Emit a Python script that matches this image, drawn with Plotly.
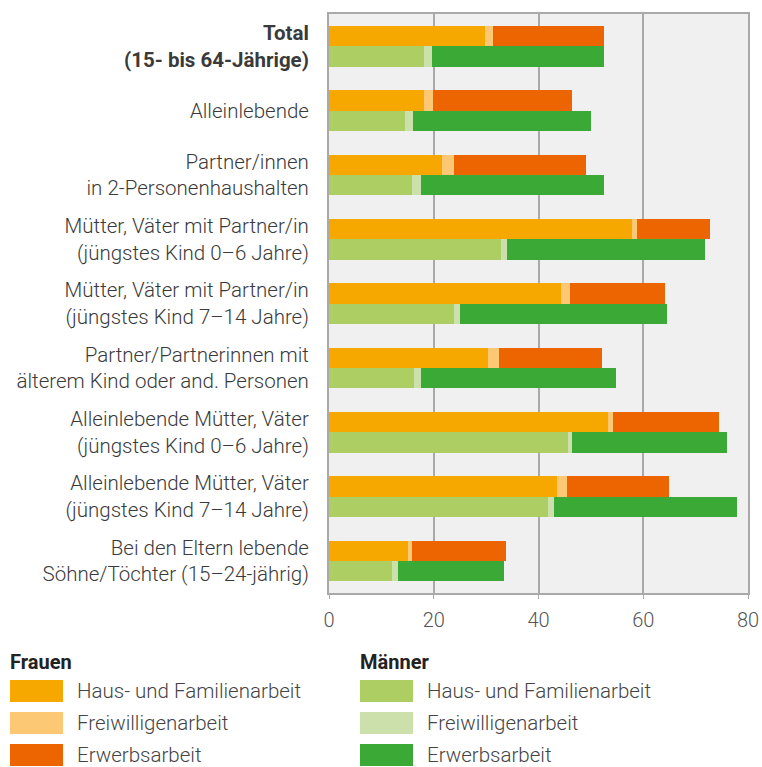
import plotly.graph_objects as go

categories = [
    "<b>Total<br>(15- bis 64-Jährige)</b>",
    "Alleinlebende",
    "Partner/innen<br>in 2-Personenhaushalten",
    "Mütter, Väter mit Partner/in<br>(jüngstes Kind 0–6 Jahre)",
    "Mütter, Väter mit Partner/in<br>(jüngstes Kind 7–14 Jahre)",
    "Partner/Partnerinnen mit<br>älterem Kind oder and. Personen",
    "Alleinlebende Mütter, Väter<br>(jüngstes Kind 0–6 Jahre)",
    "Alleinlebende Mütter, Väter<br>(jüngstes Kind 7–14 Jahre)",
    "Bei den Eltern lebende<br>Söhne/Töchter (15–24-jährig)",
]

frauen_haus = [29.7, 18.1, 21.6, 57.9, 44.2, 30.3, 53.2, 43.5, 15.1]
frauen_frei = [1.6, 1.7, 2.3, 1.0, 1.9, 2.1, 1.0, 1.9, 0.8]
frauen_erwerb = [21.3, 26.6, 25.2, 13.9, 18.1, 19.8, 20.2, 19.5, 17.8]

maenner_haus = [18.1, 14.6, 15.8, 32.9, 23.8, 16.2, 45.6, 41.8, 12.0]
maenner_frei = [1.6, 1.5, 1.7, 1.0, 1.3, 1.4, 0.8, 1.1, 1.1]
maenner_erwerb = [32.9, 34.0, 35.1, 37.9, 39.5, 37.2, 29.6, 35.0, 20.4]

series_names = ["Haus- und Familienarbeit", "Freiwilligenarbeit", "Erwerbsarbeit"]
group_titles = ["Frauen", "Männer"]
x_ticks = [0, 20, 40, 60, 80]

frauen_colors = ["#F6A800", "#FDC873", "#EC6500"]
maenner_colors = ["#ADCE62", "#CBE0AA", "#3AA935"]

BAR_H = 0.316
idx = list(range(len(categories)))
y_f = [i - BAR_H / 2 for i in idx]
y_m = [i + BAR_H / 2 for i in idx]

fig = go.Figure()
for vals, col, name in zip([frauen_haus, frauen_frei, frauen_erwerb], frauen_colors, series_names):
    fig.add_trace(go.Bar(x=vals, y=y_f, orientation="h", width=BAR_H,
                         marker=dict(color=col, line=dict(width=0)),
                         name=name, showlegend=False))
for vals, col, name in zip([maenner_haus, maenner_frei, maenner_erwerb], maenner_colors, series_names):
    fig.add_trace(go.Bar(x=vals, y=y_m, orientation="h", width=BAR_H,
                         marker=dict(color=col, line=dict(width=0)),
                         name=name, showlegend=False))

FONT = "Roboto"

ML, MR, MT, MB = 329, 14, 14, 174
FW, FH = 762, 767

fig.update_layout(
    width=FW, height=FH,
    barmode="stack",
    bargap=0,
    paper_bgcolor="white",
    plot_bgcolor="#F0F0F0",
    margin=dict(l=ML, r=MR, t=MT, b=MB, autoexpand=False),
    font=dict(family=FONT, color="#333333"),
    xaxis=dict(range=[0, 80], tickvals=x_ticks, showgrid=True, gridcolor="#A9A9A9",
               gridwidth=1.5, zeroline=False, showline=True, linecolor="#A9A9A9",
               linewidth=2, mirror=True, ticks="outside", ticklen=4, tickcolor="#A9A9A9",
               tickfont=dict(family=FONT, size=20, color="#555555", weight=300),
               ticklabelstandoff=4),
    yaxis=dict(range=[8.5, -0.5], tickvals=idx, ticktext=categories, showgrid=False,
               zeroline=False, showline=True, linecolor="#A9A9A9", linewidth=2,
               mirror=True, ticks="",
               tickfont=dict(family=FONT, size=20.5, color="#3a3a3a", weight=300),
               ticklabelstandoff=14),
)

# Custom legend (two columns with titles), positioned in plot-domain paper coordinates
PX0, PX1, PY0, PY1 = 329, 748, 14, 593


def px(x):
    return (x - PX0) / (PX1 - PX0)


def py(y):
    return (PY1 - y) / (PY1 - PY0)


col_x = [10, 360]
sw_y = [680, 712, 744]

for c, (title, colors) in enumerate(zip(group_titles, [frauen_colors, maenner_colors])):
    x0 = col_x[c]
    fig.add_annotation(x=px(x0 - 2), y=py(662), xref="paper", yref="paper",
                       text="<b>" + title + "</b>", showarrow=False,
                       xanchor="left", yanchor="middle",
                       font=dict(family=FONT, size=20, color="#222222"))
    for k, (name, col) in enumerate(zip(series_names, colors)):
        fig.add_shape(type="rect", xref="paper", yref="paper",
                      x0=px(x0), x1=px(x0 + 53), y0=py(sw_y[k]), y1=py(sw_y[k] + 22),
                      fillcolor=col, line=dict(width=0))
        fig.add_annotation(x=px(x0 + 65), y=py(sw_y[k] + 11), xref="paper", yref="paper",
                           text=name, showarrow=False, xanchor="left", yanchor="middle",
                           font=dict(family=FONT, size=20.5, color="#444444", weight=300))

fig.write_html(
    "out.html",
    config={"displayModeBar": False},
    post_script="document.body.style.margin='0';document.body.style.overflow='hidden';"
                "document.documentElement.style.overflow='hidden';",
)
